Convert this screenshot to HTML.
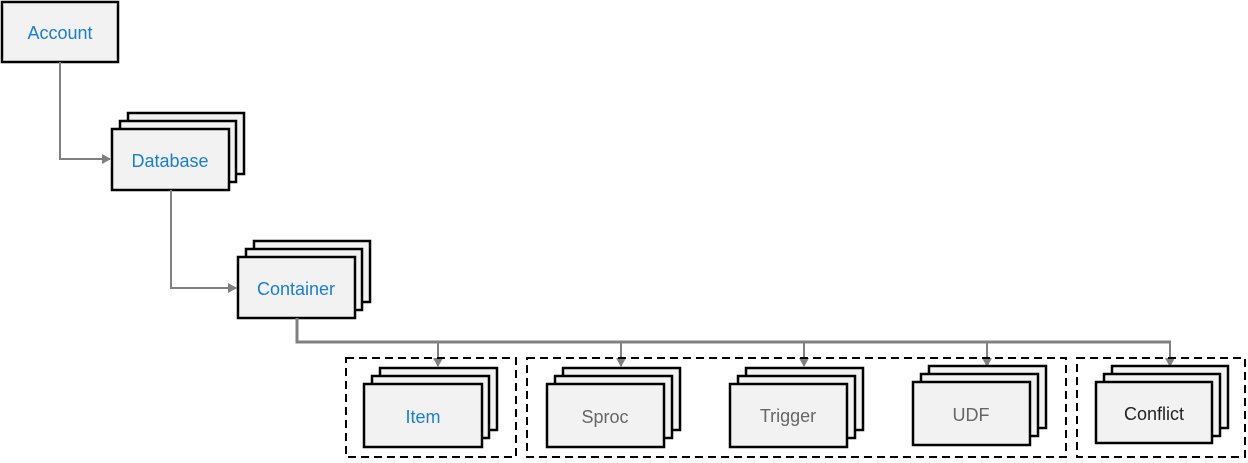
<!DOCTYPE html>
<html><head><meta charset="utf-8"><style>
html,body{margin:0;padding:0;background:#fff;}
svg text{font-family:"Liberation Sans",sans-serif;font-size:18px;text-anchor:middle;dominant-baseline:central;}
</style></head><body>
<svg width="1248" height="458" viewBox="0 0 1248 458" xmlns="http://www.w3.org/2000/svg">
<defs>
<marker id="a" markerWidth="10" markerHeight="10" refX="8" refY="5" orient="auto" markerUnits="userSpaceOnUse">
<path d="M0,0 L9,5 L0,10 z" fill="#808080"/></marker>
</defs>
<g fill="#f2f2f2" stroke="#000" stroke-width="2.5">
<rect x="2" y="2" width="116" height="60"/>
<rect x="128" y="113" width="116" height="61"/>
<rect x="120" y="121" width="116" height="61"/>
<rect x="112" y="129" width="117" height="61"/>
<rect x="254" y="241" width="116" height="61"/>
<rect x="246" y="249" width="116" height="61"/>
<rect x="238" y="257" width="117" height="61"/>
</g>
<g fill="none" stroke="#808080" stroke-width="2">
<path d="M60,62 V159 H110" marker-end="url(#a)"/>
<path d="M171,190 V288 H236" marker-end="url(#a)"/>
</g>
<path d="M297,318 V342 H1171" fill="none" stroke="#808080" stroke-width="3"/>
<g stroke="#808080" stroke-width="2" fill="none">
<path d="M438,342 V366" marker-end="url(#a)"/>
<path d="M621,342 V366" marker-end="url(#a)"/>
<path d="M804,342 V366" marker-end="url(#a)"/>
<path d="M987,342 V366" marker-end="url(#a)"/>
<path d="M1170,342 V366" marker-end="url(#a)"/>
</g>
<g fill="none" stroke="#000" stroke-width="2" stroke-dasharray="8,5">
<rect x="346" y="358" width="170" height="99"/>
<rect x="527" y="358" width="539" height="99"/>
<rect x="1077" y="358" width="168" height="99"/>
</g>
<g fill="#f2f2f2" stroke="#000" stroke-width="2.5">
<rect x="380" y="368" width="117" height="62"/><rect x="372" y="376" width="117" height="62"/><rect x="364" y="384" width="118" height="63"/>
<rect x="563" y="368" width="117" height="62"/><rect x="555" y="376" width="117" height="62"/><rect x="547" y="384" width="117" height="63"/>
<rect x="746" y="368" width="117" height="62"/><rect x="738" y="376" width="117" height="62"/><rect x="730" y="384" width="117" height="63"/>
<rect x="929" y="366" width="117" height="62"/><rect x="921" y="374" width="117" height="62"/><rect x="913" y="382" width="117" height="63"/>
<rect x="1112" y="366" width="116" height="62"/><rect x="1104" y="374" width="116" height="62"/><rect x="1096" y="382" width="116" height="61"/>
</g>
<g>
<text x="60" y="33" fill="#1a7fd4">Account</text>
<text x="170" y="161" fill="#1a7fd4">Database</text>
<text x="296" y="289" fill="#1a7fd4">Container</text>
<text x="423" y="417" fill="#1a7fd4">Item</text>
<text x="605" y="417" fill="#666">Sproc</text>
<text x="788" y="416" fill="#666">Trigger</text>
<text x="971" y="415" fill="#666">UDF</text>
<text x="1154" y="414" fill="#222">Conflict</text>
</g>
</svg>
</body></html>
